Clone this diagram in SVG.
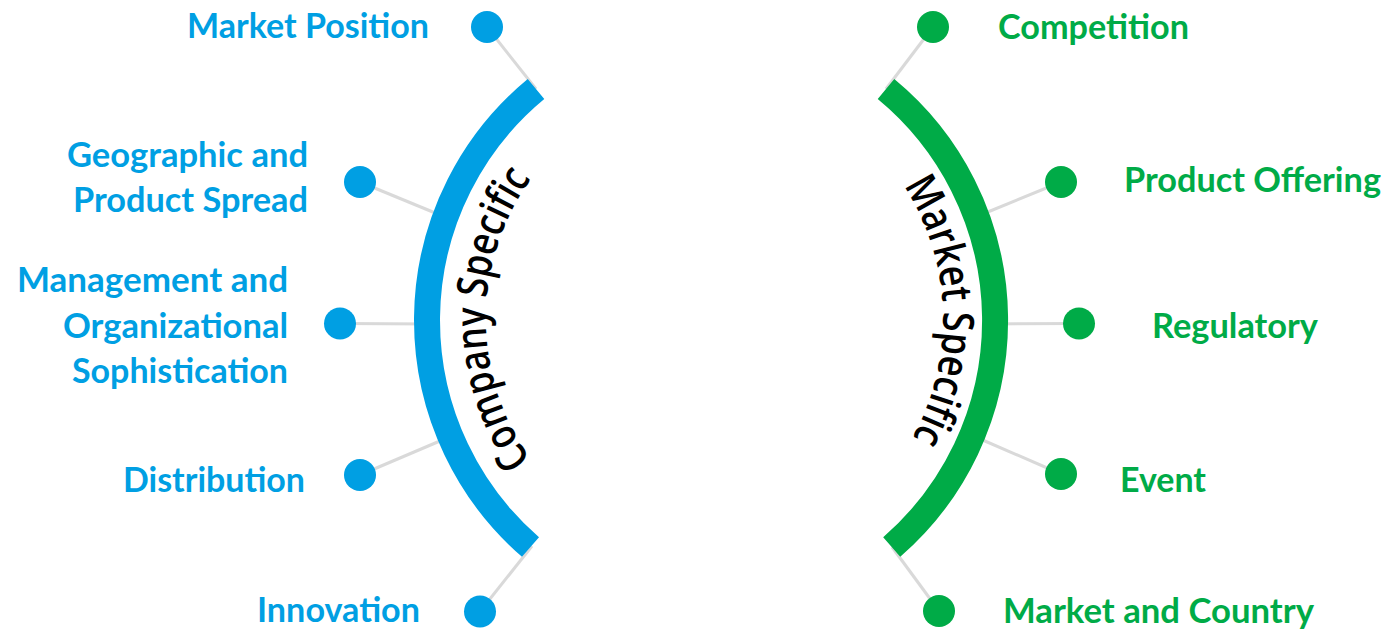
<svg xmlns="http://www.w3.org/2000/svg" width="1386" height="630" viewBox="0 0 1386 630">
  <style>
    .lbl { font-family: Lato, "Open Sans", "Liberation Sans", sans-serif; font-weight: 700; font-size: 34px; }
    .blue { fill: #009FE3; }
    .green { fill: #00AB47; }
    .conn { stroke: #D9D9D9; stroke-width: 3; fill: none; }
    .arc { fill: none; stroke-width: 26; }
    .arctext { font-family: "Open Sans", Lato, "Liberation Sans", sans-serif; font-weight: 600; font-size: 43px; fill: #000; font-variant-ligatures: none; }
  </style>
  <defs>
    <path id="pathCompany" d="M 571.7 502.9 A 240 240 0 0 1 571.7 135.1"/>
    <path id="pathMarket" d="M 855.5 131.3 A 245 245 0 0 1 855.5 506.7"/>
  </defs>
  <rect width="1386" height="630" fill="#FFFFFF"/>

  <g id="connectors">
    <line class="conn" x1="487" y1="27" x2="536" y2="89"/>
    <line class="conn" x1="360" y1="182" x2="445" y2="217"/>
    <line class="conn" x1="340" y1="323.5" x2="432" y2="324"/>
    <line class="conn" x1="360" y1="475" x2="447" y2="438"/>
    <line class="conn" x1="480" y1="611.5" x2="532" y2="546"/>
    <line class="conn" x1="933" y1="27" x2="886" y2="89"/>
    <line class="conn" x1="1061" y1="182" x2="978" y2="216"/>
    <line class="conn" x1="1079" y1="323.5" x2="990" y2="324"/>
    <line class="conn" x1="1061" y1="474" x2="978" y2="438"/>
    <line class="conn" x1="939" y1="611" x2="892" y2="547"/>
  </g>

  <g id="company-specific">
    <path class="arc" stroke="#009FE3" d="M 530.5 547 A 300 300 0 0 1 536 89"/>
    <text class="arctext"><textPath href="#pathCompany" startOffset="50%" text-anchor="middle" textLength="300" lengthAdjust="spacingAndGlyphs">Company Specific</textPath></text>
  </g>

  <g id="market-specific">
    <path class="arc" stroke="#00AB47" d="M 886 89 A 300 300 0 0 1 891.7 547"/>
    <text class="arctext"><textPath href="#pathMarket" startOffset="48%" text-anchor="middle" textLength="265" lengthAdjust="spacingAndGlyphs">Market Specific</textPath></text>
  </g>

  <g id="node-market-position">
    <circle class="blue" cx="487" cy="27" r="16"/>
    <text class="lbl blue" x="187" y="38" textLength="242" lengthAdjust="spacingAndGlyphs">Market Position</text>
  </g>
  <g id="node-geographic">
    <circle class="blue" cx="360" cy="182" r="16"/>
    <text class="lbl blue" x="67" y="167" textLength="241" lengthAdjust="spacingAndGlyphs">Geographic and</text>
    <text class="lbl blue" x="73" y="212" textLength="235" lengthAdjust="spacingAndGlyphs">Product Spread</text>
  </g>
  <g id="node-management">
    <circle class="blue" cx="340" cy="323.5" r="16"/>
    <text class="lbl blue" x="17" y="292" textLength="271" lengthAdjust="spacingAndGlyphs">Management and</text>
    <text class="lbl blue" x="63" y="337.5" textLength="225" lengthAdjust="spacingAndGlyphs">Organizational</text>
    <text class="lbl blue" x="72" y="383" textLength="216" lengthAdjust="spacingAndGlyphs">Sophistication</text>
  </g>
  <g id="node-distribution">
    <circle class="blue" cx="360" cy="475" r="16"/>
    <text class="lbl blue" x="123" y="491.5" textLength="182" lengthAdjust="spacingAndGlyphs">Distribution</text>
  </g>
  <g id="node-innovation">
    <circle class="blue" cx="480" cy="611.5" r="16"/>
    <text class="lbl blue" x="257" y="621.5" textLength="163" lengthAdjust="spacingAndGlyphs">Innovation</text>
  </g>

  <g id="node-competition">
    <circle class="green" cx="933" cy="27" r="16"/>
    <text class="lbl green" x="998" y="38.5" textLength="191" lengthAdjust="spacingAndGlyphs">Competition</text>
  </g>
  <g id="node-product-offering">
    <circle class="green" cx="1061" cy="182" r="16"/>
    <text class="lbl green" x="1124" y="192" textLength="257" lengthAdjust="spacingAndGlyphs">Product Offering</text>
  </g>
  <g id="node-regulatory">
    <circle class="green" cx="1079" cy="323.5" r="16"/>
    <text class="lbl green" x="1152" y="338" textLength="166" lengthAdjust="spacingAndGlyphs">Regulatory</text>
  </g>
  <g id="node-event">
    <circle class="green" cx="1061" cy="474" r="16"/>
    <text class="lbl green" x="1120" y="492" textLength="86" lengthAdjust="spacingAndGlyphs">Event</text>
  </g>
  <g id="node-market-country">
    <circle class="green" cx="939" cy="611" r="16"/>
    <text class="lbl green" x="1003" y="623" textLength="311" lengthAdjust="spacingAndGlyphs">Market and Country</text>
  </g>
</svg>
